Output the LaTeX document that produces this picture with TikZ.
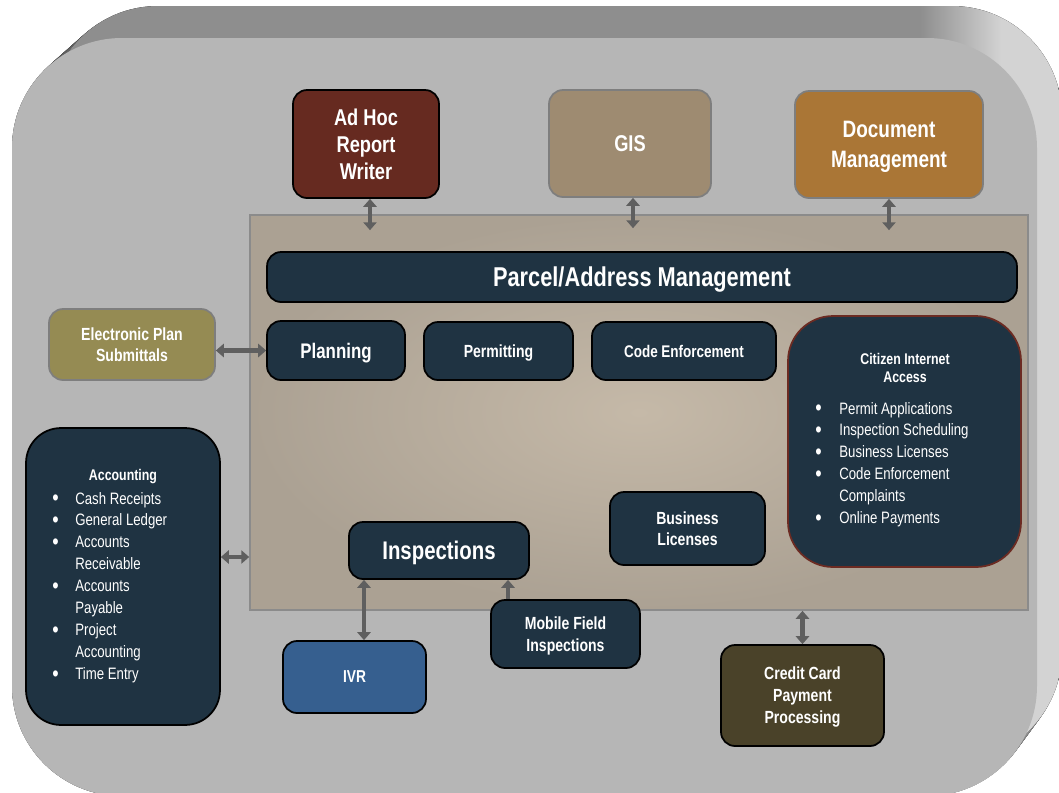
\documentclass[tikz,border=0pt]{standalone}
\usepackage{fontspec}
\setmainfont{Liberation Sans}[FakeStretch=0.8]
\usetikzlibrary{arrows.meta,calc}

\definecolor{frontgrey}{HTML}{B6B6B6}
\definecolor{bevdark}{HTML}{8E8E8E}
\definecolor{bevlight}{HTML}{D3D3D3}
\definecolor{panelmid}{HTML}{C5B9A8}
\definecolor{paneldark}{HTML}{ABA193}
\definecolor{paneledge}{HTML}{8B8B8B}
\definecolor{navy}{HTML}{1F3342}
\definecolor{adhoc}{HTML}{662A20}
\definecolor{gisbrown}{HTML}{9E8B71}
\definecolor{docbrown}{HTML}{AA7636}
\definecolor{epsolive}{HTML}{958B53}
\definecolor{ivrblue}{HTML}{365F8F}
\definecolor{ccbrown}{HTML}{4A4229}
\definecolor{edgegrey}{HTML}{7E7E7E}
\definecolor{linkgrey}{HTML}{5F5F5F}
\definecolor{citedge}{HTML}{6C2B22}

% top of the frame dark, right side light
\pgfdeclarehorizontalshading{bevel}{100bp}{color(0bp)=(bevdark); color(68bp)=(bevdark); color(72bp)=(bevlight); color(100bp)=(bevlight)}

% bigger list bullet
\newcommand{\lbul}{\raisebox{-0.8pt}{\fontsize{13}{12.5}\selectfont\textbullet}}

\begin{document}
\begin{tikzpicture}[x=0.02cm,y=-0.02cm,
	box/.style={rounded corners=0.28cm,line width=1pt,text=white,align=center,inner sep=0pt,text depth=0pt},
	navybox/.style={box,draw=black,fill=navy},
	link/.style={draw=linkgrey,line width=2.6pt,>={Triangle[width=7.5pt,length=4.5pt]},<->},
	uplink/.style={link,->},
	listtext/.style={text=white,inner sep=0pt,anchor=base west,font=\fontsize{9.4}{12.5}\selectfont},
	listhead/.style={text=white,inner sep=0pt,align=center,font=\bfseries\fontsize{8.8}{10.2}\selectfont}]
	\useasboundingbox (0,0) rectangle (1059,792);
	\clip (0,0) rectangle (1059,792);

	% raised frame
	\foreach \t in {0,0.05,...,1.01}
		\fill[shading=bevel,rounded corners=2.2cm] ({12+36*\t},{38-32*\t}) rectangle ({1037+25*\t},{796-34*\t});
	\fill[frontgrey,rounded corners=2.2cm] (12,38) rectangle (1037,796);

	\node[draw=paneledge,line width=1pt,inner sep=0pt,minimum width=15.56cm,minimum height=7.9cm,
		shading=radial,inner color=panelmid,outer color=paneldark] (panel) at (639,412.5) {};

	\node[box,draw=black,fill=adhoc,minimum width=2.92cm,minimum height=2.16cm,font=\bfseries\fontsize{13}{15.4}\selectfont] (ahw) at (366,144) {Ad Hoc\\Report\\Writer};
	\node[box,draw=edgegrey,fill=gisbrown,minimum width=3.24cm,minimum height=2.14cm,font=\bfseries\fontsize{13}{15}\selectfont] (gis) at (630,143.5) {GIS};
	\node[box,draw=edgegrey,fill=docbrown,minimum width=3.76cm,minimum height=2.14cm,font=\bfseries\fontsize{13.5}{17}\selectfont] (doc) at (889,144.5) {Document\\Management};

	\node[navybox,minimum width=15cm,minimum height=1cm,font=\bfseries\fontsize{15.5}{18}\selectfont] (pam) at (642,277) {Parcel/Address Management};
	\node[navybox,minimum width=2.76cm,minimum height=1.18cm,font=\bfseries\fontsize{12}{14}\selectfont] (plan) at (336,350.5) {Planning};
	\node[navybox,minimum width=2.98cm,minimum height=1.16cm,font=\bfseries\fontsize{10}{12}\selectfont] (perm) at (498.5,351) {Permitting};
	\node[navybox,minimum width=3.68cm,minimum height=1.16cm,font=\bfseries\fontsize{9.6}{12}\selectfont] (code) at (684,351) {Code Enforcement};
	\node[navybox,minimum width=3.6cm,minimum height=1.14cm,font=\bfseries\fontsize{14.5}{16}\selectfont] (insp) at (439,550.5) {Inspections};
	\node[navybox,minimum width=3.1cm,minimum height=1.46cm,font=\bfseries\fontsize{10}{12}\selectfont] (bl) at (687.5,528.5) {Business\\Licenses};
	\node[navybox,minimum width=2.98cm,minimum height=1.36cm,font=\bfseries\fontsize{10}{12.5}\selectfont] (mfi) at (565.5,634) {Mobile Field\\Inspections};

	\node[box,draw=edgegrey,fill=epsolive,minimum width=3.32cm,minimum height=1.42cm,font=\bfseries\fontsize{10}{12}\selectfont] (eps) at (132,344.5) {Electronic Plan\\Submittals};
	\node[box,draw=black,fill=ivrblue,minimum width=2.86cm,minimum height=1.44cm,font=\bfseries\fontsize{9.8}{12}\selectfont] (ivr) at (354.5,677) {IVR};
	\node[box,draw=black,fill=ccbrown,minimum width=3.26cm,minimum height=2.02cm,font=\bfseries\fontsize{10}{12.5}\selectfont] (ccpp) at (802.5,695.5) {Credit Card\\Payment\\Processing};

	% citizen access
	\node[box,draw=citedge,fill=navy,rounded corners=0.9cm,minimum width=4.66cm,minimum height=5.02cm] (cia) at (904.5,441.5) {};
	\node[listhead] (ciahead) at (905,368) {Citizen Internet\\Access};
	\node[listtext] (cialist) at (815,414) {\begin{tabular}[t]{@{}p{0.48cm}@{}l@{}}
		\lbul & Permit Applications\\
		\lbul & Inspection Scheduling\\
		\lbul & Business Licenses\\
		\lbul & Code Enforcement\\
		 & Complaints\\
		\lbul & Online Payments
	\end{tabular}};

	% accounting
	\node[navybox,rounded corners=0.7cm,minimum width=3.88cm,minimum height=5.94cm] (acct) at (123,576.5) {};
	\node[listhead] (accthead) at (123,477) {Accounting};
	\node[listtext] (acctlist) at (52,504) {\begin{tabular}[t]{@{}p{0.46cm}@{}l@{}}
		\lbul & Cash Receipts\\
		\lbul & General Ledger\\
		\lbul & Accounts\\
		 & Receivable\\
		\lbul & Accounts\\
		 & Payable\\
		\lbul & Project\\
		 & Accounting\\
		\lbul & Time Entry
	\end{tabular}};

	% links
	\draw[link] ([xshift=0.08cm]ahw.south) -- ($([xshift=0.08cm]ahw.south |- panel.north)+(0,16)$);
	\draw[link] ([xshift=0.06cm]gis.south) -- ($([xshift=0.06cm]gis.south |- panel.north)+(0,14)$);
	\draw[link] (doc.south) -- ($(doc.south |- panel.north)+(0,16)$);
	\draw[link] (plan.west -| eps.east) -- (plan.west);
	\draw[link] ([yshift=0.39cm]acct.east) -- ([yshift=0.39cm]acct.east -| panel.west);
	\draw[link] ([xshift=0.19cm]ivr.north) -- ([xshift=0.19cm]ivr.north |- insp.south);
	\draw[uplink] ([xshift=-1.15cm]mfi.north) -- ([xshift=-1.15cm]mfi.north |- insp.south);
	\draw[link] (ccpp.north) -- (ccpp.north |- panel.south);
\end{tikzpicture}
\end{document}
